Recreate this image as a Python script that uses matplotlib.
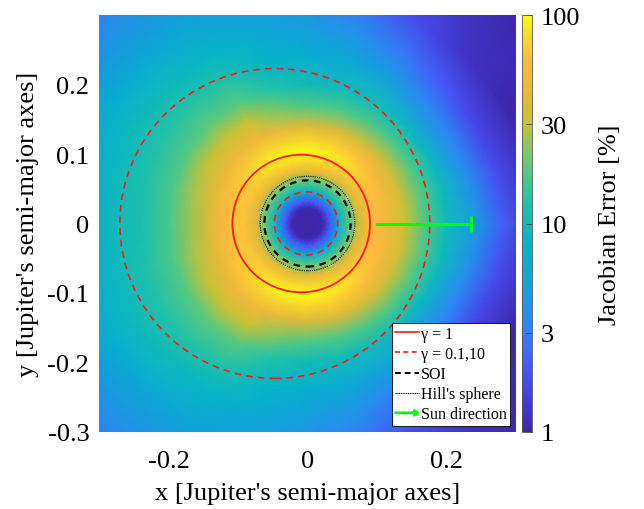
import numpy as np
import matplotlib
matplotlib.use('Agg')
import matplotlib.pyplot as plt
import matplotlib.patches as mpatches
from matplotlib.colors import LogNorm, LinearSegmentedColormap
from matplotlib.lines import Line2D
from matplotlib.legend_handler import HandlerPatch

plt.rcParams['font.family'] = ['Liberation Serif', 'DejaVu Serif']

# Jacobian error [%] sampled on a polar grid around Jupiter (upper half plane,
# the field is mirror-symmetric about the Sun-Jupiter line)
radii = [0, 0.012, 0.022, 0.032, 0.045, 0.06, 0.075, 0.09, 0.105, 0.12,
         0.14, 0.17, 0.2, 0.24, 0.28, 0.33, 0.45]
angles_deg = [0, 15, 30, 45, 60, 75, 90, 105, 120, 135, 150, 165, 180]

err_core = [1.0, 1.0, 1.05, 2.0, 7, 18]   # r <= 0.06, same in every direction
err_0   = err_core + [38, 55, 55, 45, 32, 17, 10, 5.0, 2.2, 1.2, 1.0]
err_15  = err_core + [40, 58, 58, 48, 33, 17, 9.5, 3.8, 1.8, 1.1, 1.0]
err_30  = err_core + [42, 62, 62, 52, 34, 17, 9.0, 3.2, 1.6, 1.05, 1.0]
err_45  = err_core + [42, 68, 72, 58, 36, 17, 9.0, 3.5, 2.0, 1.2, 1.0]
err_60  = err_core + [43, 72, 85, 65, 38, 17, 10, 5.0, 2.8, 1.7, 1.0]
err_75  = err_core + [45, 76, 93, 72, 40, 17, 10, 6.3, 4.0, 2.6, 1.3]
err_90  = err_core + [45, 78, 98, 75, 40, 17, 10, 7.2, 5.0, 3.5, 1.8]
err_105 = err_core + [45, 78, 98, 76, 44, 21, 12.5, 8.5, 6.5, 4.5, 2.3]
err_120 = err_core + [43, 75, 92, 76, 52, 30, 18, 12, 8.5, 6.0, 2.8]
err_135 = err_core + [43, 70, 80, 70, 50, 31, 19, 13, 9.5, 6.5, 2.8]
err_150 = err_core + [43, 65, 68, 62, 47, 29, 18, 13, 10, 7.0, 2.8]
err_165 = err_core + [43, 63, 66, 58, 42, 26, 17, 12, 9.5, 7.0, 2.8]
err_180 = err_core + [43, 62, 66, 56, 40, 24, 16, 11.5, 9.5, 7.0, 2.8]

# boundary circles: (x centre, y centre, radius) in Jupiter semi-major axes
gamma_one   = (-0.009, 0.0, 0.099)
gamma_outer = (-0.047, 0.0, 0.223)
gamma_inner = (-0.002, 0.0, 0.0455)
soi         = (0.0, 0.0, 0.062)
hill        = (0.0, 0.0, 0.068)

# Sun direction marker
sun_x = [0.1, 0.235]
sun_y = [0.0, 0.0]

cbar_ticks = [1, 3, 10, 30, 100]

# MATLAB parula-like colormap
parula = LinearSegmentedColormap.from_list('parula', [
    (0.00, (0.2422, 0.1504, 0.6603)),
    (0.08, (0.2700, 0.2400, 0.8700)),
    (0.15, (0.2800, 0.3400, 0.9700)),
    (0.25, (0.1800, 0.5300, 0.9650)),
    (0.35, (0.0900, 0.6300, 0.8700)),
    (0.45, (0.0100, 0.7000, 0.7900)),
    (0.55, (0.1300, 0.7600, 0.6600)),
    (0.65, (0.4000, 0.7950, 0.4600)),
    (0.74, (0.7800, 0.7600, 0.2100)),
    (0.81, (0.8800, 0.7300, 0.2200)),
    (0.88, (0.9900, 0.7200, 0.2500)),
    (0.95, (0.9700, 0.8500, 0.1700)),
    (1.00, (0.9769, 0.9839, 0.0805)),
])

# build the full polar mesh (mirror the upper half to the lower half)
upper = np.array([err_0, err_15, err_30, err_45, err_60, err_75, err_90,
                  err_105, err_120, err_135, err_150, err_165, err_180])
full = np.vstack([upper, upper[-2:0:-1], upper[:1]])
step = angles_deg[1] - angles_deg[0]
theta = np.deg2rad(np.arange(0, 361, step))
R, TH = np.meshgrid(np.array(radii), theta)
X = R * np.cos(TH)
Y = R * np.sin(TH)

fig = plt.figure(figsize=(6.44, 5.10), dpi=100)
ax = fig.add_axes([0.1537, 0.151, 0.6475, 0.8176])
cax = fig.add_axes([0.8106, 0.151, 0.0155, 0.8176])

mesh = ax.pcolormesh(X, Y, full, shading='gouraud', cmap=parula,
                     norm=LogNorm(vmin=1, vmax=100), rasterized=True)

def add_circle(c, **kw):
    ax.add_patch(mpatches.Circle((c[0], c[1]), c[2], fill=False, **kw))

add_circle(gamma_outer, edgecolor='#ff1a1a', linewidth=1.2, linestyle=(0, (4, 3)))
add_circle(gamma_one, edgecolor='#ff1a1a', linewidth=1.3)
add_circle(hill, edgecolor='black', linewidth=0.8, linestyle=(0, (1, 1)))
add_circle(soi, edgecolor='black', linewidth=1.6, linestyle=(0, (3, 2.5)))
add_circle(gamma_inner, edgecolor='#ff1a1a', linewidth=1.2, linestyle=(0, (4, 3)))

ax.plot(sun_x, sun_y, color='#00ff00', linewidth=2.2)
ax.plot(sun_x[-1], sun_y[-1], marker='|', markersize=11, markeredgewidth=2.2,
        color='#00ff00')

ax.set_xlim(-0.3, 0.3)
ax.set_ylim(-0.3, 0.3)
ax.set_xticks([-0.2, 0, 0.2])
ax.set_xticklabels(['-0.2', '0', '0.2'])
ax.set_yticks([-0.3, -0.2, -0.1, 0, 0.1, 0.2])
ax.set_yticklabels(['-0.3', '-0.2', '-0.1', '0', '0.1', '0.2'])
ax.tick_params(axis='x', length=0, pad=13, labelsize=19)
ax.tick_params(axis='y', length=0, pad=7, labelsize=19)
for sp in ax.spines.values():
    sp.set_visible(False)
ax.set_xlabel("x [Jupiter's semi-major axes]", fontsize=19, labelpad=7)
ax.set_ylabel("y [Jupiter's semi-major axes]", fontsize=19, labelpad=6)

# legend with an arrow for the Sun direction
def make_arrow(legend, orig_handle, xdescent, ydescent, width, height, fontsize):
    return mpatches.FancyArrow(0, 0.5 * height, width, 0, width=0.12 * height,
                               head_width=0.6 * height, head_length=0.45 * height,
                               length_includes_head=True, color='#00ff00')

sun_handle = mpatches.FancyArrow(0, 0, 1, 0, color='#00ff00')
handles = [
    Line2D([], [], color='#ff1a1a', linewidth=1.2),
    Line2D([], [], color='#ff1a1a', linewidth=1.2, linestyle=(0, (3, 2))),
    Line2D([], [], color='black', linewidth=1.4, linestyle=(0, (3, 2))),
    Line2D([], [], color='black', linewidth=0.8, linestyle=(0, (1, 0.6))),
    sun_handle,
]
labels = ['γ = 1', 'γ = 0.1,10', 'SOI', "Hill's sphere", 'Sun direction']
leg = ax.legend(handles, labels, loc='lower right', fontsize=11.5,
                fancybox=False, framealpha=1, edgecolor='black',
                handlelength=1.5, handletextpad=0.1, labelspacing=0.26,
                borderpad=0.2, borderaxespad=0.4,
                handler_map={sun_handle: HandlerPatch(patch_func=make_arrow)})
leg.get_frame().set_linewidth(0.6)

cb = fig.colorbar(mesh, cax=cax, ticks=cbar_ticks)
cb.ax.minorticks_off()
cb.ax.set_yticklabels([str(t) for t in cbar_ticks])
cb.ax.tick_params(direction='in', length=4, width=0.6, labelsize=19, pad=6,
                  color='#333333')
cb.outline.set_linewidth(0.6)
cb.outline.set_edgecolor('#555555')
cb.set_label('Jacobian Error [%]', fontsize=19, labelpad=14)

fig.savefig('out.png', dpi=100)
